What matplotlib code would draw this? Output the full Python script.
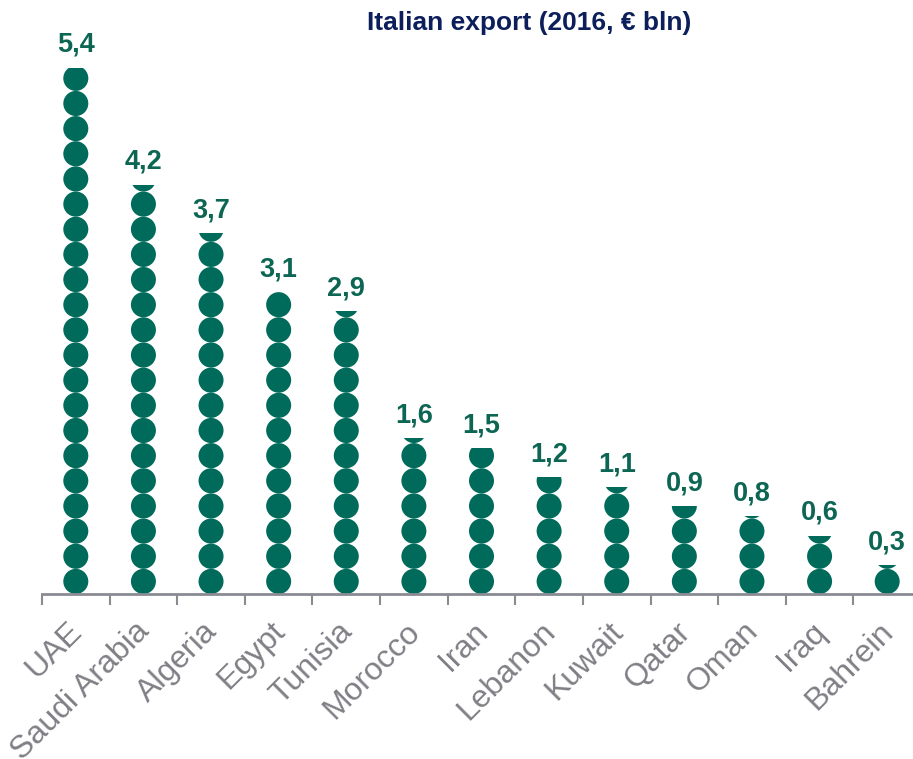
import matplotlib
matplotlib.use("Agg")
import matplotlib.pyplot as plt
from matplotlib.patches import Ellipse, Rectangle
from matplotlib.transforms import ScaledTranslation

# data
countries = ["UAE", "Saudi Arabia", "Algeria", "Egypt", "Tunisia", "Morocco", "Iran",
             "Lebanon", "Kuwait", "Qatar", "Oman", "Iraq", "Bahrein"]
values = [5.4, 4.2, 3.7, 3.1, 2.9, 1.6, 1.5, 1.2, 1.1, 0.9, 0.8, 0.6, 0.3]
value_labels = ["5,4", "4,2", "3,7", "3,1", "2,9", "1,6", "1,5", "1,2", "1,1", "0,9", "0,8", "0,6", "0,3"]

green = "#006b5a"
unit = 0.258      # value per stacked circle
bar_w = 0.37

plt.rcParams['font.family'] = ['Liberation Sans', 'DejaVu Sans']

fig = plt.figure(figsize=(9.13, 7.59), dpi=100)
ax = fig.add_axes([42 / 913, 165 / 759, 879 / 913, 585 / 759])

for i, v in enumerate(values):
    clip = Rectangle((i - bar_w, 0), 2 * bar_w, v, transform=ax.transData,
                     facecolor="none", edgecolor="none")
    ax.add_patch(clip)
    n = int(v / unit) + 1
    for k in range(n):
        c = Ellipse((i, (k + 0.5) * unit), bar_w, unit, facecolor=green,
                    edgecolor="none")
        ax.add_patch(c)
        c.set_clip_path(clip)
    ax.annotate(value_labels[i], (i, v), xytext=(0, 7), textcoords="offset points",
                ha="center", va="bottom", fontsize=19.5, fontweight="bold",
                color="#0d6654")

ax.set_xlim(-0.5, len(values) - 0.5)
ax.set_ylim(0, 6)

for s in ["top", "right", "left"]:
    ax.spines[s].set_visible(False)
ax.spines["bottom"].set_color("#8a8a93")
ax.spines["bottom"].set_linewidth(2)
ax.set_yticks([])

ax.set_xticks([i - 0.5 for i in range(len(values) + 1)])
ax.set_xticklabels([])
ax.tick_params(axis="x", length=8, width=1.5, color="#8a8a93", direction="out")
ax.set_xticks(range(len(values)), minor=True)
ax.set_xticklabels(countries, minor=True, rotation=45, ha="right",
                   rotation_mode="anchor", fontsize=23, color="#7f7f85")
ax.tick_params(axis="x", which="minor", length=0, pad=14)
shift = ScaledTranslation(-9 / 100, -3 / 100, fig.dpi_scale_trans)
for lbl in ax.get_xticklabels(minor=True):
    lbl.set_transform(lbl.get_transform() + shift)

fig.text(529 / 913, 1 - 23 / 759, "Italian export (2016, € bln)", ha="center",
         va="center", fontsize=19, fontweight="bold", color="#0c1f5b")

fig.savefig("out.png", dpi=100)
